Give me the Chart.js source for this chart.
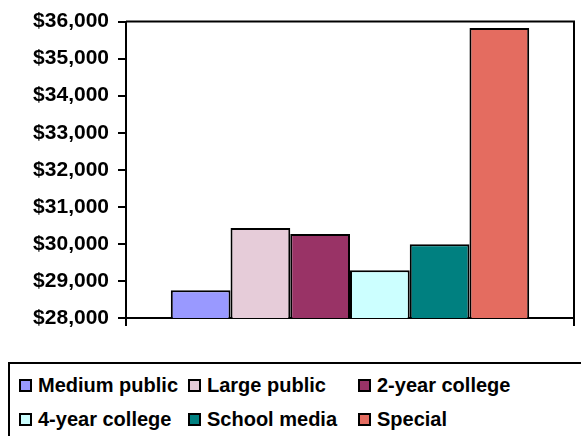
<!DOCTYPE html>
<html lang="en">
<head>
<meta charset="UTF-8">
<title>Salaries</title>
<script src="https://cdn.jsdelivr.net/npm/chart.js"></script>
<style>
  body { margin: 0; width: 581px; height: 436px; overflow: hidden; background: #fff; font-family: "Liberation Sans", Arial, sans-serif; position: relative; }
  #wrap { position: absolute; left: 0; top: 0; width: 581px; height: 340px; }
  #legenda { position: absolute; left: 8px; top: 362px; width: 600px; height: 100px; border: 2px solid #000; box-sizing: border-box; }
  .item { position: absolute; font-weight: bold; font-size: 20px; line-height: 22px; white-space: nowrap; }
  .item i { position: absolute; left: -19px; top: 5px; width: 9px; height: 9px; border: 2px solid #000; }
</style>
</head>
<body>
<div id="wrap"><canvas id="grafico"></canvas></div>
<div id="legenda"></div>

<script>
const categorias = ['Medium public', 'Large public', '2-year college', '4-year college', 'School media', 'Special'];
const valores = [28750, 30430, 30265, 29290, 29990, 35830];
const cores = ['#9999FF', '#E6CCD9', '#993366', '#CCFFFF', '#008080', '#E46C60'];

// moldura em volta da área do gráfico (topo e lado direito)
const moldura = {
  id: 'moldura',
  afterDraw(chart) {
    const a = chart.chartArea;
    const ctx = chart.ctx;
    ctx.save();
    ctx.strokeStyle = '#000';
    ctx.lineWidth = 2;
    ctx.beginPath();
    ctx.moveTo(a.left, a.top);
    ctx.lineTo(a.right, a.top);
    ctx.lineTo(a.right, a.bottom);
    ctx.stroke();
    ctx.restore();
  }
};

const datasets = categorias.map(function (nome, i) {
  return {
    label: nome,
    data: [valores[i]],
    backgroundColor: cores[i],
    borderColor: '#000',
    borderWidth: 2,
    borderSkipped: false
  };
});

const ctx = document.getElementById('grafico').getContext('2d');
const chart = new Chart(ctx, {
  type: 'bar',
  data: { labels: [''], datasets: datasets },
  options: {
    responsive: true,
    maintainAspectRatio: false,
    animation: false,
    layout: { padding: { left: 8, right: 7, top: 20, bottom: 0 } },
    plugins: { legend: { display: false }, tooltip: { enabled: false } },
    datasets: { bar: { categoryPercentage: 0.8, barPercentage: 1.0 } },
    scales: {
      x: {
        afterFit: function (axis) { axis.height = 22; },
        grid: { display: true, offset: true, drawOnChartArea: false, drawTicks: true, tickLength: 8, color: '#000', lineWidth: 2 },
        border: { display: true, color: '#000', width: 2 },
        ticks: { display: false }
      },
      y: {
        min: 28000,
        max: 36000,
        afterFit: function (axis) { axis.width = 118; },
        grid: { drawOnChartArea: false, drawTicks: true, tickLength: 8, color: '#000', lineWidth: 2 },
        border: { display: true, color: '#000', width: 2 },
        ticks: {
          stepSize: 1000,
          padding: 9,
          color: '#000',
          font: { family: '"Liberation Sans", Arial, sans-serif', size: 21, weight: 'bold' },
          callback: function (v) { return '$' + v.toLocaleString('en-US'); }
        }
      }
    }
  },
  plugins: [moldura]
});

// legenda em grade, como no original
const colunas = [28, 197, 367];
const linhas = [10, 44];
const legenda = document.getElementById('legenda');
chart.data.datasets.forEach(function (ds, i) {
  const el = document.createElement('div');
  el.className = 'item';
  el.style.left = colunas[i % 3] + 'px';
  el.style.top = linhas[Math.floor(i / 3)] + 'px';
  el.innerHTML = '<i style="background:' + ds.backgroundColor + '"></i>' + ds.label;
  legenda.appendChild(el);
});
</script>
</body>
</html>
